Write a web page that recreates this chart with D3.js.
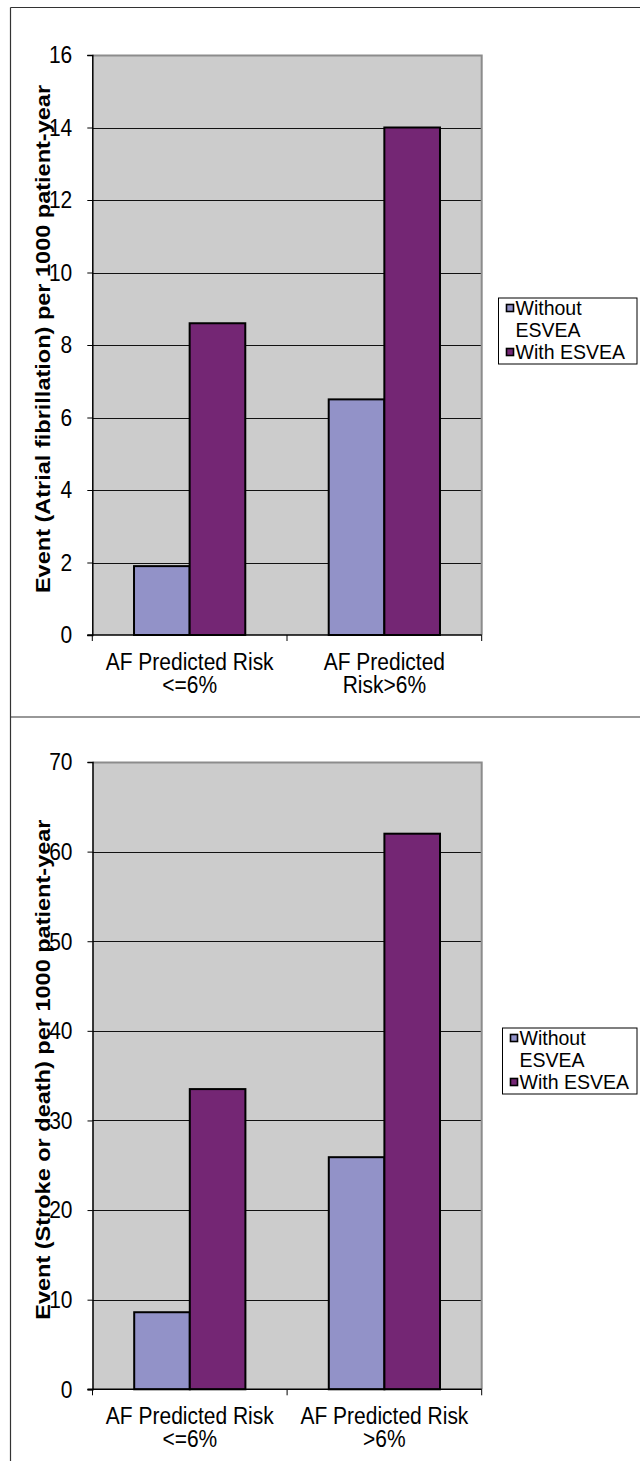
<!DOCTYPE html>
<html>
<head>
<meta charset="utf-8">
<script src="https://cdn.jsdelivr.net/npm/d3@7"></script>
<style>
  html, body { margin: 0; padding: 0; background: #fff; }
  svg { display: block; }
  text { font-family: "Liberation Sans", Arial, sans-serif; fill: #000; }
</style>
</head>
<body>
<svg id="chart" width="640" height="1461"></svg>
<script>
// Category labels (one entry per line of the wrapped axis label)
const afCategories = [["AF Predicted Risk", "<=6%"], ["AF Predicted", "Risk>6%"]];
const strokeCategories = [["AF Predicted Risk", "<=6%"], ["AF Predicted Risk", ">6%"]];

// Series
const seriesNames = ["Without ESVEA", "With ESVEA"];
const legendLines = [["Without", "ESVEA"], ["With ESVEA"]];
const seriesColors = ["#9292c8", "#742674"];

// Events of atrial fibrillation per 1000 patient-year
const afWithout = [1.9, 6.5];
const afWith = [8.6, 14.0];
const afTicks = [0, 2, 4, 6, 8, 10, 12, 14, 16];

// Events of stroke or death per 1000 patient-year
const strokeWithout = [8.6, 25.9];
const strokeWith = [33.5, 62.0];
const strokeTicks = [0, 10, 20, 30, 40, 50, 60, 70];

const svg = d3.select("#chart");
const FONT = 21;
const STRETCH = 1.12;   // axis text is drawn slightly taller than wide

// panel frames
svg.append("line").attr("x1", 10.5).attr("x2", 640).attr("y1", 7.5).attr("y2", 7.5)
  .attr("stroke", "#333").attr("stroke-width", 1.2);
svg.append("line").attr("x1", 10.5).attr("x2", 640).attr("y1", 717).attr("y2", 717)
  .attr("stroke", "#333").attr("stroke-width", 1.2);
svg.append("line").attr("x1", 10.5).attr("x2", 10.5).attr("y1", 7.5).attr("y2", 1461)
  .attr("stroke", "#333").attr("stroke-width", 1.2);

// multi-line text block; each line is a tspan, positioned in unstretched units
function stretchedText(g, x, y, lines, anchor, opts = {}) {
  const arr = Array.isArray(lines) ? lines : [lines];
  const sy = opts.stretch || STRETCH;
  const step = (opts.lineStep || 0) / sy;
  const t = g.append("text")
    .attr("transform", `translate(${x},${y}) scale(1,${sy})` + (opts.rotate ? " rotate(-90)" : ""))
    .attr("text-anchor", anchor)
    .attr("font-size", opts.size || FONT);
  arr.forEach((ln, k) => {
    t.append("tspan").attr("x", 0).attr("y", k * step).text(ln);
  });
  if (opts.bold) t.attr("font-weight", "bold");
  return t;
}

function drawChart(cfg) {
  const g = svg.append("g");
  const { left, right, top, bottom } = cfg;

  const y = d3.scaleLinear().domain([0, d3.max(cfg.ticks)]).range([bottom, top]);
  const labels = cfg.categories.map(d => d.join(" "));
  const x0 = d3.scaleBand().domain(labels).range([left, right])
    .paddingInner(1.5 / 3.5).paddingOuter(0.75 / 3.5);
  const x1 = d3.scaleBand().domain(seriesNames).range([0, x0.bandwidth()]);

  // plot background
  g.append("rect").attr("x", left).attr("y", top)
    .attr("width", right - left).attr("height", bottom - top).attr("fill", "#cccccc");

  // gridlines
  g.append("g").selectAll("line").data(cfg.ticks.filter(t => t > 0 && t < d3.max(cfg.ticks)))
    .join("line")
    .attr("x1", left).attr("x2", right)
    .attr("y1", d => Math.round(y(d)) + 0.5).attr("y2", d => Math.round(y(d)) + 0.5)
    .attr("stroke", "#111").attr("stroke-width", 1);

  // plot frame (top and right)
  g.append("path")
    .attr("d", `M${left},${top + 0.5}H${right}V${bottom}`)
    .attr("fill", "none").attr("stroke", "#8c8c8c").attr("stroke-width", 2);

  // bars
  const rows = labels.map((c, i) => ({ cat: c, values: [cfg.without[i], cfg.with[i]] }));
  g.append("g").selectAll("g").data(rows).join("g")
    .attr("transform", d => `translate(${x0(d.cat)},0)`)
    .selectAll("rect")
    .data(d => d.values.map((v, j) => ({ name: seriesNames[j], v, j })))
    .join("rect")
    .attr("x", d => x1(d.name))
    .attr("y", d => y(d.v))
    .attr("width", x1.bandwidth())
    .attr("height", d => y(0) - y(d.v))
    .attr("fill", d => seriesColors[d.j])
    .attr("stroke", "#000").attr("stroke-width", 2);

  // y axis
  const yAxis = g.append("g").attr("transform", `translate(${left},0)`)
    .call(d3.axisLeft(y).tickValues(cfg.ticks).tickSize(5).tickFormat(""));
  yAxis.select(".domain").attr("stroke", "#000").attr("stroke-width", 1.5);
  yAxis.selectAll(".tick line").attr("stroke", "#000");
  cfg.ticks.forEach(t => {
    stretchedText(g, left - 20, y(t) + 8.4, d3.format("d")(t), "end");
  });

  // x axis
  const xTickPos = [left, (left + right) / 2, right];
  g.append("line").attr("x1", left - 5).attr("x2", right).attr("y1", bottom).attr("y2", bottom)
    .attr("stroke", "#000").attr("stroke-width", 1.5);
  g.append("g").selectAll("line").data(xTickPos).join("line")
    .attr("x1", d => d).attr("x2", d => d).attr("y1", bottom).attr("y2", bottom + 6)
    .attr("stroke", "#000").attr("stroke-width", 1);
  cfg.categories.forEach((lines, i) => {
    const cx = x0(labels[i]) + x0.bandwidth() / 2;
    stretchedText(g, cx, bottom + 34.5, lines, "middle", { lineStep: 23.5 });
  });

  // y axis title
  stretchedText(g, 49.5, (top + bottom) / 2 - 6, cfg.title, "middle",
    { rotate: true, bold: true, size: 21 });

  // legend
  const L = cfg.legend;
  const LSTEP = 22;
  g.append("rect").attr("x", L.x).attr("y", L.y).attr("width", 637 - L.x).attr("height", 66)
    .attr("fill", "#fff").attr("stroke", "#000").attr("stroke-width", 1);
  let line = 0;
  const allLines = [];
  legendLines.forEach((lines, j) => {
    const base = L.y + 17 + line * LSTEP;
    g.append("rect").attr("x", L.x + 8).attr("y", base - 10.5).attr("width", 7).attr("height", 7)
      .attr("fill", seriesColors[j]).attr("stroke", "#000").attr("stroke-width", 1.6);
    lines.forEach(ln => allLines.push(ln));
    line += lines.length;
  });
  stretchedText(g, L.x + 17, L.y + 17, allLines, "start",
    { lineStep: LSTEP, size: 19.5, stretch: 1 });
}

drawChart({
  left: 92.3, right: 481.7, top: 55, bottom: 635,
  ticks: afTicks, categories: afCategories,
  without: afWithout, with: afWith,
  title: "Event (Atrial fibrillation) per 1000 patient-year",
  legend: { x: 498.5, y: 298 }
});

drawChart({
  left: 92.5, right: 481.7, top: 762, bottom: 1389.3,
  ticks: strokeTicks, categories: strokeCategories,
  without: strokeWithout, with: strokeWith,
  title: "Event (Stroke or death) per 1000 patient-year",
  legend: { x: 502.5, y: 1028 }
});
</script>
</body>
</html>
